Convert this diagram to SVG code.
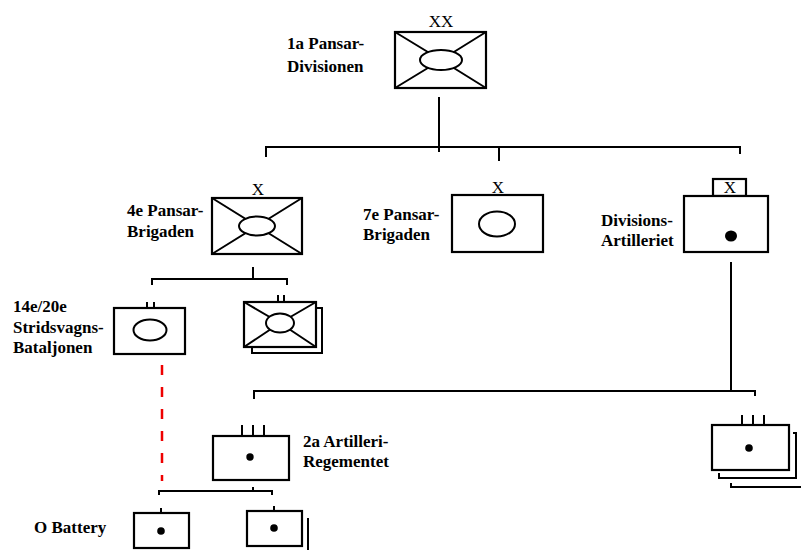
<svg xmlns="http://www.w3.org/2000/svg" width="801" height="550" viewBox="0 0 801 550">
<style>
.bx{fill:#fff;stroke:#000;stroke-width:2.2}
.ln{fill:none;stroke:#000;stroke-width:2}
.el{fill:#fff;stroke:#000;stroke-width:2}
.dot{fill:#000}
.t{font-family:"Liberation Serif","Times New Roman",serif;font-size:17px;font-weight:bold;fill:#000}
.c{text-anchor:middle;font-size:17px;font-weight:normal}
.red{fill:none;stroke:#e00;stroke-width:2.5;stroke-dasharray:10 12}
</style>
<rect width="801" height="550" fill="#fff"/>
<g id="connectors">
<path class="ln" d="M439,97V152M266,157V147H740V154M499,147V161"/>
<path class="ln" d="M253,267V279M152,285V279H287V285"/>
<path class="ln" d="M731,262V391M254,399V391H755V396"/>
<path class="ln" d="M253,487V491M159,495V491H272V495"/>
<line class="red" x1="162" y1="365" x2="162" y2="481"/>
</g>
<g id="div1">
<rect class="bx" x="395" y="32" width="91" height="56"/>
<path class="ln" d="M395,32L441,60M486,32L441,60M395,88L441,60M486,88L441,60"/>
<ellipse class="el" cx="441" cy="60" rx="21" ry="10"/>
<text class="t c" x="441" y="27">XX</text>
<text class="t" x="287" y="49">1a Pansar-</text>
<text class="t" x="287" y="72">Divisionen</text>
</g>
<g id="brig4">
<rect class="bx" x="212" y="198" width="90" height="56"/>
<path class="ln" d="M212,198L257,226M302,198L257,226M212,254L257,226M302,254L257,226"/>
<ellipse class="el" cx="257" cy="226" rx="18" ry="9.5"/>
<text class="t c" x="258" y="195">X</text>
<text class="t" x="127" y="216">4e Pansar-</text>
<text class="t" x="127" y="237">Brigaden</text>
</g>
<g id="brig7">
<rect class="bx" x="452" y="195" width="91" height="57"/>
<ellipse class="el" cx="497" cy="224" rx="18" ry="12.5"/>
<text class="t c" x="498" y="193">X</text>
<text class="t" x="363" y="220">7e Pansar-</text>
<text class="t" x="363" y="240">Brigaden</text>
</g>
<g id="divart">
<rect class="bx" x="713" y="179" width="33" height="17"/>
<rect class="bx" x="684" y="196" width="84" height="56"/>
<ellipse class="dot" cx="731" cy="236" rx="6" ry="5.5"/>
<text class="t c" x="730" y="193">X</text>
<text class="t" x="601" y="226">Divisions-</text>
<text class="t" x="601" y="246">Artilleriet</text>
</g>
<g id="bat14">
<path class="ln" d="M147,302V308M154,302V308"/>
<rect class="bx" x="114" y="308" width="71" height="46"/>
<ellipse class="el" cx="150" cy="330" rx="16.5" ry="10.5"/>
<text class="t" x="13" y="312">14e/20e</text>
<text class="t" x="13" y="333">Stridsvagns-</text>
<text class="t" x="13" y="353">Bataljonen</text>
</g>
<g id="bat2">
<path class="ln" d="M278,295V302M284,295V302"/>
<path class="ln" d="M317,308H322V353H252V348"/>
<rect class="bx" x="244" y="302" width="72" height="45"/>
<path class="ln" d="M244,302L280,323M316,302L280,323M244,347L280,323M316,347L280,323"/>
<ellipse class="el" cx="280" cy="323" rx="14" ry="9.5"/>
</g>
<g id="art2">
<path class="ln" d="M242,425V436M253,425V436M264,425V436"/>
<rect class="bx" x="213" y="436" width="76" height="44"/>
<circle class="dot" cx="250" cy="457" r="3.7"/>
<text class="t" x="303" y="447">2a Artilleri-</text>
<text class="t" x="303" y="467">Regementet</text>
</g>
<g id="artR">
<path class="ln" d="M742,415V425M753,415V425M764,415V425"/>
<path class="ln" d="M793,433H796V478H719V473"/>
<path class="ln" d="M731,483V487H801"/>
<rect class="bx" x="712" y="425" width="77" height="45"/>
<circle class="dot" cx="749" cy="448" r="3.8"/>
</g>
<g id="batteryO">
<path class="ln" d="M161,508V513"/>
<rect class="bx" x="134" y="513" width="55" height="35"/>
<circle class="dot" cx="161" cy="531" r="3.8"/>
<text class="t" x="34" y="533">O Battery</text>
</g>
<g id="battery2">
<path class="ln" d="M274,506V511M308,518V550"/>
<rect class="bx" x="247" y="511" width="55" height="35"/>
<circle class="dot" cx="274" cy="528" r="3.8"/>
</g>
</svg>
